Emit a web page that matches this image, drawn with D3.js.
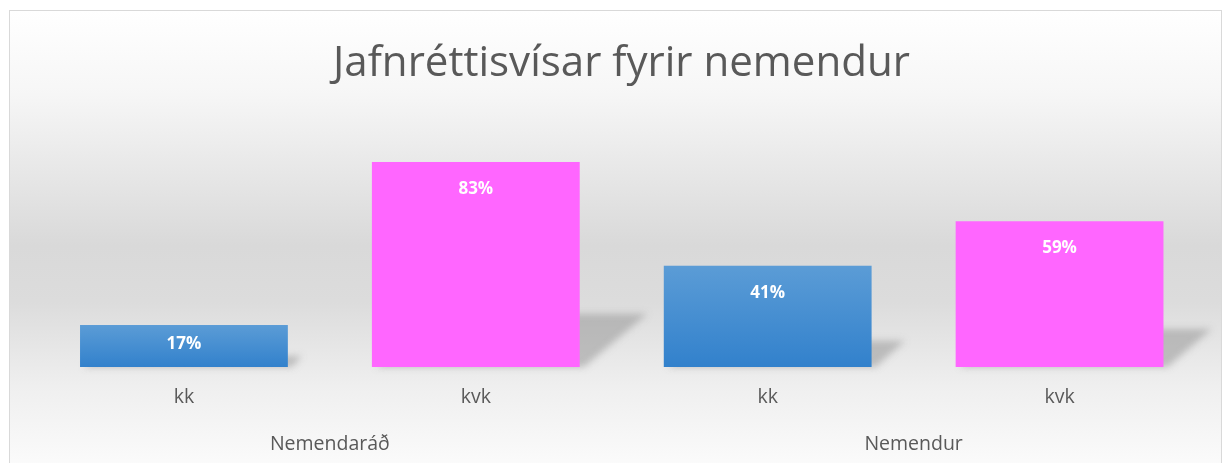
<!DOCTYPE html>
<html><head><meta charset="utf-8">
<script src="https://cdn.jsdelivr.net/npm/d3@7"></script>
<style>body{margin:0;background:#fff;overflow:hidden}svg{display:block}</style>
</head><body>
<svg id="c" width="1223" height="463"></svg>
<script>
const title = "Jafnréttisvísar fyrir nemendur";
const groups = ["Nemendaráð", "Nemendur"];
const subCats = ["kk", "kvk"];
const kkValues = [0.17, 0.41];
const kvkValues = [0.83, 0.59];
const valueLabels = [["17%", "83%"], ["41%", "59%"]];

const svg = d3.select("#c");
const defs = svg.append("defs");
const bg = defs.append("linearGradient").attr("id","bg").attr("x1",0).attr("y1",0).attr("x2",0).attr("y2",1);
[[0,"#ffffff"],[0.18,"#f6f6f6"],[0.5,"#d9d9d9"],[0.62,"#dcdcdc"],[0.8,"#efefef"],[1,"#fdfdfd"]]
  .forEach(([o,c]) => bg.append("stop").attr("offset",o).attr("stop-color",c));
const blue = defs.append("linearGradient").attr("id","blue").attr("x1",0).attr("y1",0).attr("x2",0).attr("y2",1);
blue.append("stop").attr("offset",0).attr("stop-color","#5b9cd6");
blue.append("stop").attr("offset",1).attr("stop-color","#3281cc");
defs.append("filter").attr("id","blur").attr("x","-20%").attr("y","-30%").attr("width","140%").attr("height","160%")
  .append("feGaussianBlur").attr("stdDeviation",3.5);

svg.append("rect").attr("x",9.5).attr("y",10.5).attr("width",1212).attr("height",470)
  .attr("fill","url(#bg)").attr("stroke","#d9d9d9").attr("stroke-width",1);

const rows = [];
groups.forEach((g,i) => {
  rows.push({group:g, cat:subCats[0], key:g+"|"+subCats[0], v:kkValues[i], label:valueLabels[i][0], fill:"url(#blue)"});
  rows.push({group:g, cat:subCats[1], key:g+"|"+subCats[1], v:kvkValues[i], label:valueLabels[i][1], fill:"#ff66ff"});
});

const x = d3.scaleBand().domain(rows.map(d=>d.key)).range([38,1205.5]).paddingInner(0.288).paddingOuter(0.144);
const y = d3.scaleLinear().domain([0,1]).range([367,120]);
const base = y(0);

svg.append("g").attr("filter","url(#blur)").selectAll("polygon").data(rows).join("polygon")
  .attr("points", d => {
    const x0 = x(d.key), x1 = x0 + x.bandwidth(), h = base - y(d.v);
    const dx = 0.33*h, dy = 0.26*h;
    return [[x0+4,base],[x1+4,base],[x1+dx,base-dy],[x0+dx,base-dy]].map(p=>p.join(",")).join(" ");
  })
  .attr("fill","#8f8f8f").attr("opacity",0.5);

svg.append("g").selectAll("rect").data(rows).join("rect")
  .attr("x", d=>x(d.key)).attr("width", x.bandwidth())
  .attr("y", d=>y(d.v)).attr("height", d=>base-y(d.v))
  .attr("fill", d=>d.fill);

svg.append("g").selectAll("text").data(rows).join("text")
  .attr("x", d=>x(d.key)+x.bandwidth()/2)
  .attr("y", d=>Math.min(y(d.v)+26, (y(d.v)+base)/2-3))
  .attr("dy","0.35em").attr("text-anchor","middle")
  .attr("font-family","'Open Sans', sans-serif").attr("font-weight","bold").attr("font-size",17)
  .attr("fill","#ffffff").text(d=>d.label);

const axisFont = "'Open Sans', sans-serif";
svg.append("g").selectAll("text").data(rows).join("text")
  .attr("x", d=>x(d.key)+x.bandwidth()/2).attr("y",396).attr("dy","0.35em")
  .attr("text-anchor","middle").attr("font-family",axisFont).attr("font-size",19.5)
  .attr("fill","#595959").text(d=>d.cat);

svg.append("g").selectAll("text").data(groups).join("text")
  .attr("x", g => (x(g+"|"+subCats[0]) + x(g+"|"+subCats[1]) + x.bandwidth())/2)
  .attr("y",443).attr("dy","0.35em")
  .attr("text-anchor","middle").attr("font-family",axisFont).attr("font-size",19.5)
  .attr("fill","#595959").text(g=>g);

const t = svg.append("text").attr("x",621.5).attr("y",76).attr("text-anchor","middle")
  .attr("font-family","'Open Sans', sans-serif").attr("font-size",40).attr("fill","#595959").text(title);
const len = t.node().getComputedTextLength();
t.attr("font-size", 40*577/len);
</script>
</body></html>
